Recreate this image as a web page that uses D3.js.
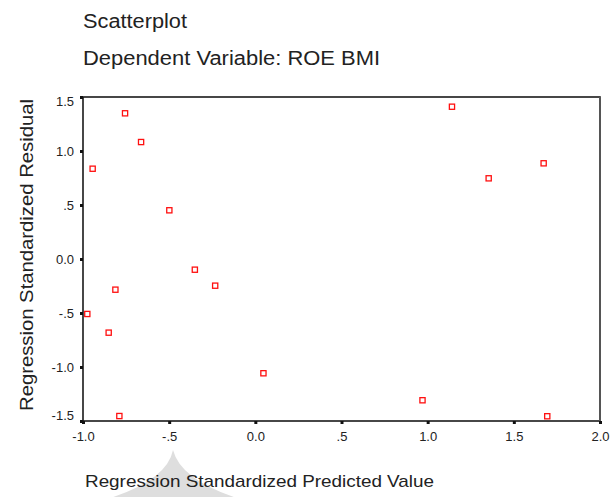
<!DOCTYPE html>
<html>
<head>
<meta charset="utf-8">
<script src="https://cdn.jsdelivr.net/npm/d3@7"></script>
<style>
  body { margin: 0; background: #fff; }
  svg { display: block; font-family: "Liberation Sans", Arial, sans-serif; }
  text { fill: #222; }
</style>
</head>
<body>
<script>
// scatterplot of residuals

const predicted = [-0.975, -0.944, -0.851, -0.812, -0.789, -0.756, -0.663, -0.499,
                   -0.351, -0.233, 0.047, 0.970, 1.141, 1.354, 1.673, 1.694];
const residual  = [-0.509, 0.836, -0.682, -0.284, -1.454, 1.349, 1.083, 0.451,
                   -0.099, -0.247, -1.058, -1.308, 1.410, 0.747, 0.886, -1.456];

const xTicks = [-1.0, -0.5, 0.0, 0.5, 1.0, 1.5, 2.0];
const xTickLabels = ['-1.0', '-.5', '0.0', '.5', '1.0', '1.5', '2.0'];
const yTicks = [-1.5, -1.0, -0.5, 0.0, 0.5, 1.0, 1.5];
const yTickLabels = ['-1.5', '-1.0', '-.5', '0.0', '.5', '1.0', '1.5'];

const width = 611;
const height = 497;
const margin = {top: 97, right: 11, bottom: 76, left: 83};

const svg = d3.select('body').append('svg')
  .attr('width', width)
  .attr('height', height);

// faint watermark behind the x title
svg.append('path')
  .attr('d', 'M173,450 Q167,481 104,500 L243,500 Q181,481 173,450 Z')
  .attr('fill', '#dedede');

const x = d3.scaleLinear()
  .domain([-1, 2])
  .range([margin.left, width - margin.right]);

const y = d3.scaleLinear()
  .domain([-1.5, 1.5])
  .range([height - margin.bottom, margin.top]);

// frame
svg.append('rect')
  .attr('x', x(-1))
  .attr('y', y(1.5))
  .attr('width', x(2) - x(-1))
  .attr('height', y(-1.5) - y(1.5))
  .attr('fill', 'none')
  .attr('stroke', '#1a1a1a')
  .attr('stroke-width', 1.6);

svg.append('line')
  .attr('x1', x(2)).attr('x2', x(2))
  .attr('y1', y(1.5)).attr('y2', y(-1.5))
  .attr('stroke', '#555')
  .attr('stroke-width', 2);

const xAxis = svg.append('g')
  .attr('transform', `translate(0,${y(-1.5)})`)
  .call(d3.axisBottom(x)
    .tickValues(xTicks)
    .tickFormat((d, i) => xTickLabels[i])
    .tickSize(3)
    .tickPadding(8));

const yAxis = svg.append('g')
  .attr('transform', `translate(${x(-1)},0)`)
  .call(d3.axisLeft(y)
    .tickValues(yTicks)
    .tickFormat((d, i) => yTickLabels[i])
    .tickSize(3)
    .tickPadding(6));

[xAxis, yAxis].forEach(g => {
  g.select('.domain').remove();
  g.selectAll('.tick line')
    .attr('stroke', '#111')
    .attr('stroke-width', 3);
  g.selectAll('.tick text')
    .attr('fill', '#222')
    .style('font-size', '13px')
    .style('font-family', '"Liberation Sans", Arial, sans-serif');
});

// keep the end labels inside the frame like the original
yAxis.selectAll('.tick text')
  .attr('dy', d => d === 1.5 ? '0.62em' : d === -1.5 ? '-0.08em' : '0.32em');

// points
svg.append('g')
  .selectAll('rect')
  .data(predicted.map((p, i) => ({p, r: residual[i]})))
  .enter().append('rect')
  .attr('x', d => x(d.p) - 2.6)
  .attr('y', d => y(d.r) - 2.6)
  .attr('width', 5.2)
  .attr('height', 5.2)
  .attr('fill', '#fff')
  .attr('stroke', '#ff1010')
  .attr('stroke-width', 1.3);

// titles
svg.append('text')
  .attr('x', 83).attr('y', 28)
  .style('font-size', '20px')
  .attr('textLength', 104)
  .attr('lengthAdjust', 'spacingAndGlyphs')
  .text('Scatterplot');

svg.append('text')
  .attr('x', 83).attr('y', 65)
  .style('font-size', '20px')
  .attr('textLength', 297)
  .attr('lengthAdjust', 'spacingAndGlyphs')
  .text('Dependent Variable: ROE BMI');

svg.append('text')
  .attr('x', 85).attr('y', 487)
  .style('font-size', '17px')
  .attr('textLength', 349)
  .attr('lengthAdjust', 'spacingAndGlyphs')
  .text('Regression Standardized Predicted Value');

svg.append('text')
  .attr('transform', 'translate(33,255) rotate(-90)')
  .attr('text-anchor', 'middle')
  .style('font-size', '18px')
  .attr('textLength', 312)
  .attr('lengthAdjust', 'spacingAndGlyphs')
  .text('Regression Standardized Residual');
</script>
</body>
</html>
